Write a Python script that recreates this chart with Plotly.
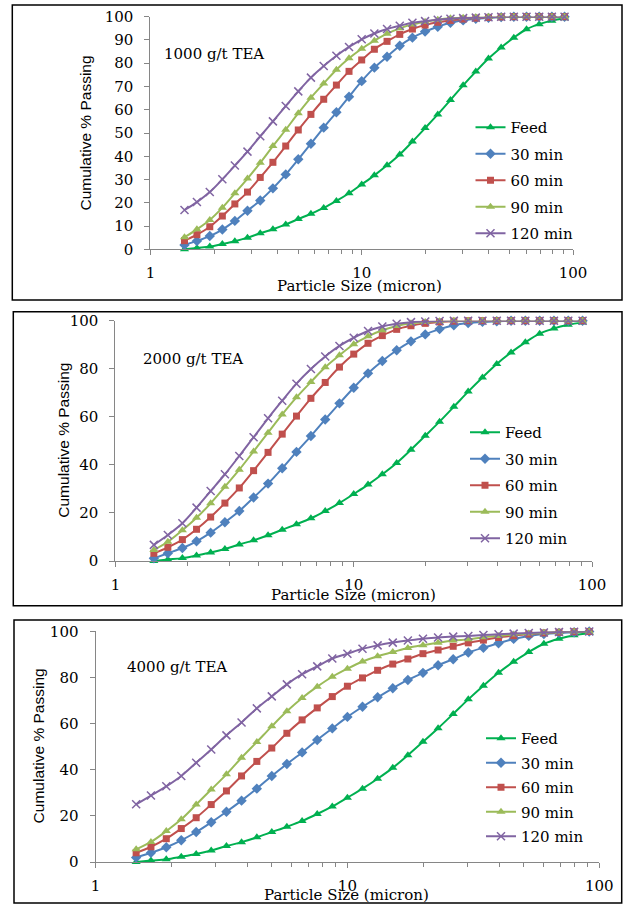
import plotly.graph_objects as go

W, H = 624, 904

sizes = [1.45, 1.66, 1.91, 2.19, 2.51, 2.88, 3.31, 3.80, 4.37, 5.01, 5.75, 6.61, 7.59, 8.71,
         10.0, 11.48, 13.18, 15.14, 17.38, 19.95, 22.91, 26.30, 30.20, 34.67, 39.81, 45.71,
         52.48, 60.26, 69.18, 79.43, 91.20]

feed = [0.0, 0.6, 1.2, 2.3, 3.5, 5.0, 6.9, 8.6, 10.7, 13.0, 15.3, 17.8, 20.8, 24.1, 27.9, 31.8,
        36.1, 40.8, 46.3, 52.1, 58.0, 64.2, 70.5, 76.4, 82.0, 86.8, 91.0, 94.6, 96.8, 98.3, 99.3]

p1_30 = [1.9, 3.6, 5.7, 8.5, 12.2, 16.6, 21.0, 26.2, 32.2, 38.7, 45.4, 52.3, 58.9, 65.6, 72.3, 78.1,
         82.8, 87.5, 91.0, 93.6, 95.7, 97.4, 98.4, 99.1, 99.5, 99.8, 100, 100, 100, 100, 100]
p1_60 = [3.7, 6.3, 9.7, 14.3, 19.5, 24.6, 30.9, 37.4, 44.4, 51.3, 58.0, 64.5, 70.6, 76.5, 81.4, 86.0,
         89.4, 92.4, 94.7, 96.4, 97.6, 98.4, 99.0, 99.4, 99.7, 99.9, 100, 100, 100, 100, 100]
p1_90 = [5.2, 8.6, 12.6, 17.9, 24.1, 30.4, 37.2, 44.4, 51.4, 58.5, 65.2, 71.3, 77.2, 82.1, 86.2, 89.7,
         92.7, 95.0, 96.7, 97.8, 98.7, 99.3, 99.6, 99.8, 100, 100, 100, 100, 100, 100, 100]
p1_120 = [16.9, 20.3, 24.6, 30.1, 36.0, 42.0, 48.6, 55.0, 61.6, 67.9, 73.8, 78.8, 83.2, 87.0, 90.3, 92.8,
          94.7, 96.1, 97.4, 98.1, 98.7, 99.1, 99.4, 99.6, 99.8, 100, 100, 100, 100, 100, 100]

p2_30 = [1.1, 3.2, 5.4, 8.2, 11.8, 16.1, 20.8, 26.4, 32.2, 38.6, 45.4, 52.0, 58.9, 65.6, 72.1, 78.1,
         83.2, 87.7, 91.4, 94.3, 96.5, 98.1, 99.0, 99.5, 99.8, 100, 100, 100, 100, 100, 100]
p2_60 = [3.2, 5.7, 8.9, 13.2, 18.3, 24.1, 30.4, 37.6, 45.2, 52.8, 60.3, 67.7, 74.3, 80.7, 86.1, 90.6,
         93.8, 96.4, 97.9, 98.9, 99.5, 99.8, 100, 100, 100, 100, 100, 100, 100, 100, 100]
p2_90 = [4.6, 8.0, 12.8, 18.0, 24.0, 30.9, 38.0, 45.6, 53.4, 61.0, 68.1, 74.5, 80.6, 85.6, 90.2, 93.5,
         96.0, 97.8, 98.9, 99.5, 99.8, 100, 100, 100, 100, 100, 100, 100, 100, 100, 100]
p2_120 = [6.7, 10.8, 15.7, 22.2, 29.1, 36.1, 43.7, 51.5, 59.4, 66.7, 73.8, 79.9, 85.1, 89.5, 92.9, 95.7,
          97.6, 98.7, 99.4, 99.7, 99.9, 100, 100, 100, 100, 100, 100, 100, 100, 100, 100]

p3_30 = [1.9, 4.0, 6.4, 9.4, 13.0, 17.2, 21.8, 26.6, 31.8, 37.3, 42.5, 47.5, 52.9, 57.9, 62.9, 67.3,
         71.4, 75.3, 78.9, 82.0, 85.3, 87.9, 90.8, 92.9, 94.8, 96.7, 98.0, 98.8, 99.3, 99.6, 99.9]
p3_60 = [4.0, 6.6, 10.1, 14.5, 19.2, 24.9, 30.8, 37.3, 43.6, 49.4, 55.8, 61.6, 66.8, 71.7, 76.2, 79.8,
         83.1, 85.8, 88.0, 90.3, 91.9, 93.5, 95.0, 96.2, 97.3, 98.1, 98.8, 99.3, 99.6, 99.8, 99.9]
p3_90 = [5.5, 8.7, 13.4, 18.5, 24.9, 31.4, 38.0, 45.2, 52.0, 58.8, 65.3, 71.1, 76.0, 80.3, 83.8, 86.9,
         89.2, 91.0, 92.8, 94.0, 95.0, 96.0, 96.5, 97.4, 98.0, 98.6, 99.0, 99.4, 99.6, 99.8, 99.9]
p3_120 = [25.0, 28.8, 32.8, 37.3, 43.0, 48.8, 54.9, 60.5, 66.6, 71.8, 77.0, 81.4, 84.8, 88.2, 90.3, 92.4,
          93.9, 95.1, 96.0, 96.8, 97.3, 97.7, 98.0, 98.4, 98.7, 99.0, 99.3, 99.5, 99.7, 99.8, 99.9]

series_names = ["Feed", "30 min", "60 min", "90 min", "120 min"]
panel_titles = ["1000 g/t TEA", "2000 g/t TEA", "4000 g/t TEA"]
panels = [
    [feed, p1_30, p1_60, p1_90, p1_120],
    [feed, p2_30, p2_60, p2_90, p2_120],
    [feed, p3_30, p3_60, p3_90, p3_120],
]
y_dticks = [10, 20, 20]
x_ticks = [1, 10, 100]
x_minor = [2, 3, 4, 5, 6, 7, 8, 9, 20, 30, 40, 50, 60, 70, 80, 90]

colors = ["#00B050", "#4F81BD", "#C0504D", "#9BBB59", "#8064A2"]
symbols = ["triangle-up", "diamond", "square", "triangle-up", "x-thin"]
msizes = [8, 8, 7, 8, 8]

SERIF = "DejaVu Serif"
SANS = "Liberation Sans"


def px(x):
    return x / W


def py(y):
    return 1 - y / H


# panel geometry in pixels: (x_at_1, x_at_100, y_at_0, y_at_100)
geom = [
    (150.4, 573.0, 249.3, 16.7),
    (115.4, 592.1, 561.0, 320.7),
    (95.5, 599.3, 862.0, 631.3),
]
boxes = [(12.3, 5.0, 622.0, 300.0), (13.3, 311.7, 622.0, 605.7), (14.0, 620.0, 621.7, 903.0)]
ytitle_pos = [(84.5, 133.0), (62.7, 440.0), (38.4, 746.0)]
xtitle_pos = [(359.0, 286.0), (353.5, 595.0), (346.8, 895.0)]
label_pos = [(162.4, 54.5), (141.3, 359.3), (125.3, 667.0)]
legend_pos = [(470.5, 111.0), (465.0, 416.0), (481.0, 722.0)]
legend_gap = [4, 4, 2]

fig = go.Figure()
layout = dict(
    template="none",
    width=W, height=H, autosize=False, margin=dict(l=0, r=0, t=0, b=0, pad=0),
    paper_bgcolor="white", plot_bgcolor="white",
    font=dict(family=SERIF, size=15, color="black"),
)
annotations = []
shapes = []

for i, data in enumerate(panels):
    n = i + 1
    xa = "x" if n == 1 else f"x{n}"
    ya = "y" if n == 1 else f"y{n}"
    lg = "legend" if n == 1 else f"legend{n}"
    for j, (name, vals) in enumerate(zip(series_names, data)):
        marker = dict(symbol=symbols[j], size=msizes[j], color=colors[j])
        if symbols[j] == "x-thin":
            marker["line"] = dict(color=colors[j], width=1.5)
        fig.add_trace(go.Scatter(
            x=sizes, y=vals, name=name, mode="lines+markers",
            line=dict(color=colors[j], width=2, shape="spline"),
            marker=marker, xaxis=xa, yaxis=ya, legend=lg,
            legendgroup=f"p{n}_{j}", cliponaxis=False,
        ))
    x1, x100, y0, y100 = geom[i]
    axis_common = dict(showgrid=False, zeroline=False, showline=True, linecolor="#868686",
                       linewidth=1, ticks="outside", ticklen=5, tickcolor="#868686",
                       automargin=False,
                       tickfont=dict(family=SERIF, size=15, color="black"))
    layout["xaxis" if n == 1 else f"xaxis{n}"] = dict(
        type="log", range=[0, 2], domain=[px(x1), px(x100)], anchor=ya,
        tickmode="array", tickvals=x_ticks, ticktext=[str(v) for v in x_ticks],
        minor=dict(tickmode="array", tickvals=x_minor, ticks="outside", ticklen=4,
                   tickcolor="#868686", showgrid=False),
        ticklabelstandoff=5,
        **axis_common,
    )
    layout["yaxis" if n == 1 else f"yaxis{n}"] = dict(
        range=[0, 100], domain=[py(y0), py(y100)], anchor=xa,
        dtick=y_dticks[i], tick0=0, ticklabelstandoff=8,
        **axis_common,
    )
    lx, ly = legend_pos[i]
    layout[lg] = dict(
        x=px(lx), y=py(ly), xanchor="left", yanchor="top", bgcolor="rgba(0,0,0,0)",
        borderwidth=0, font=dict(family=SERIF, size=15, color="black"), traceorder="grouped",
        tracegroupgap=legend_gap[i], itemclick=False, itemdoubleclick=False,
    )
    tx, ty = ytitle_pos[i]
    annotations.append(dict(text="Cumulative % Passing", x=px(tx), y=py(ty), xref="paper", yref="paper",
                            showarrow=False, textangle=-90, xanchor="center", yanchor="middle",
                            font=dict(family=SANS, size=15.5, color="black")))
    tx, ty = xtitle_pos[i]
    annotations.append(dict(text="Particle Size (micron)", x=px(tx), y=py(ty), xref="paper", yref="paper",
                            showarrow=False, xanchor="center", yanchor="middle",
                            font=dict(family=SERIF, size=15, color="black")))
    tx, ty = label_pos[i]
    annotations.append(dict(text=panel_titles[i], x=px(tx), y=py(ty), xref="paper", yref="paper",
                            showarrow=False, xanchor="left", yanchor="middle",
                            font=dict(family=SERIF, size=15, color="black")))
    bx0, by0, bx1, by1 = boxes[i]
    shapes.append(dict(type="rect", xref="paper", yref="paper", x0=px(bx0), x1=px(bx1),
                       y0=py(by1), y1=py(by0), line=dict(color="black", width=1.5), layer="below"))

layout["annotations"] = annotations
layout["shapes"] = shapes
fig.update_layout(**layout)
fig.write_html(
    "out.html",
    config={"displayModeBar": False},
    post_script=(
        "document.documentElement.style.margin='0';document.documentElement.style.overflow='hidden';"
        "document.body.style.margin='0';document.body.style.padding='0';document.body.style.overflow='hidden';"
        "var d=document.getElementById('{plot_id}');d.style.position='fixed';d.style.left='0px';d.style.top='0px';"
    ),
)
